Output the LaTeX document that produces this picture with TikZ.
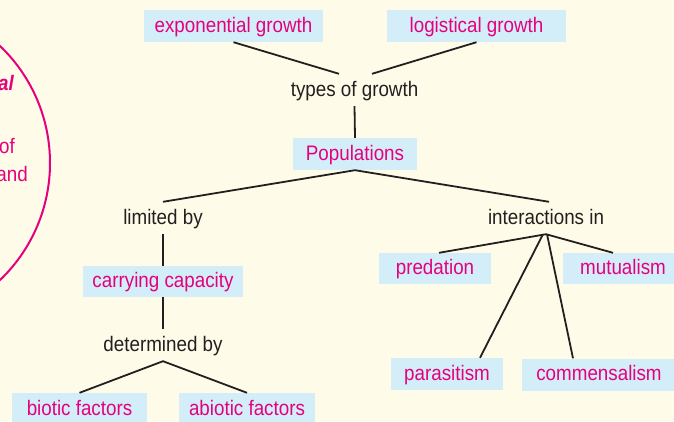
\documentclass[tikz,border=0pt]{standalone}
\usepackage{fontspec}
\setmainfont{Liberation Sans}[FakeStretch=0.895]
\definecolor{bg}{HTML}{FEFCE8}
\definecolor{boxblue}{HTML}{D3EEF9}
\definecolor{mag}{HTML}{E5007D}
\definecolor{ink}{HTML}{231F20}
\tikzset{
  cbox/.style={fill=boxblue, text=mag, minimum height=32pt, inner sep=0pt,
    font=\fontsize{21}{25}\selectfont, text height=15pt, text depth=3pt},
  lbl/.style={text=ink, minimum height=32pt, inner sep=0pt,
    font=\fontsize{21}{25}\selectfont, text height=15pt, text depth=3pt},
  link/.style={draw=ink, line width=1.8pt},
  side/.style={text=mag, inner sep=0pt, anchor=east,
    font=\fontsize{21}{25}\selectfont}
}
\begin{document}
\begin{tikzpicture}[x=1pt,y=-1pt]
\useasboundingbox (0,0) rectangle (674,421);
\clip (0,0) rectangle (674,421);
\fill[bg] (0,0) rectangle (674,421);
% left circle fragment
\draw[mag, line width=2pt] (-112,163) circle (162);
\node[side, font=\fontsize{21}{25}\selectfont\bfseries\itshape] (s1) at (14,83) {al};
\node[side] (s2) at (15,146) {of};
\node[side] (s3) at (28,174) {and};
% nodes
\node[cbox, minimum width=179pt] (exp) at (233.5,26) {exponential growth};
\node[cbox, minimum width=179pt] (log) at (476.5,26) {logistical growth};
\node[lbl] (types) at (354.5,90) {types of growth};
\node[cbox, minimum width=124pt] (pop) at (355,154) {Populations};
\node[lbl] (lim) at (163,218) {limited by};
\node[lbl] (inter) at (546,218) {interactions in};
\node[cbox, minimum width=160pt, minimum height=31pt] (carry) at (163,281.5) {carrying capacity};
\node[lbl] (det) at (163,345) {determined by};
\node[cbox, minimum width=135pt] (bio) at (79.5,409) {biotic factors};
\node[cbox, minimum width=136pt] (abio) at (247,409) {abiotic factors};
\node[cbox, minimum width=112pt, minimum height=31pt] (pred) at (435,268.5) {predation};
\node[cbox, minimum width=120pt, minimum height=31pt] (mutu) at (623,268.5) {mutualism};
\node[cbox, minimum width=112pt] (para) at (447,374) {parasitism};
\node[cbox, minimum width=154pt] (comm) at (599,374.5) {commensalism};
% connectors
\draw[link] (exp.south) -- ([xshift=-15.5pt]types.north);
\draw[link] (log.south) -- ([xshift=17.5pt]types.north);
\draw[link] (types.south) -- (pop.north);
\draw[link] (lim.north) -- (pop.south) -- ([xshift=3pt]inter.north);
\draw[link] (lim.south) -- (carry.north);
\draw[link] (carry.south) -- (det.north);
\draw[link] (bio.north) -- (det.south) -- (abio.north);
\draw[link] ([xshift=4pt]pred.north) -- (inter.south) -- ([xshift=-10pt]mutu.north);
\draw[link] ([xshift=33pt]para.north) -- ([xshift=-3pt]inter.south);
\draw[link] ([xshift=-26pt]comm.north) -- ([xshift=1pt]inter.south);
\end{tikzpicture}
\end{document}
